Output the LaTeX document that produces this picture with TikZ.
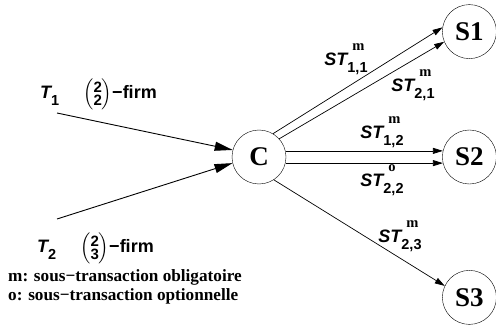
\documentclass[tikz,border=0pt]{standalone}
\usepackage{amsmath}
\usepackage{fontspec}
\setmainfont{Liberation Serif}
\setsansfont{Liberation Sans}
\usetikzlibrary{arrows.meta,positioning}

\newcommand{\stlabel}[2]{{\sffamily\bfseries\itshape ST}%
  \rlap{\raisebox{15pt}{\hspace{5pt}\fontsize{14.5}{14.5}\selectfont\rmfamily\bfseries #1}}%
  \raisebox{-7pt}{\fontsize{14.5}{14.5}\selectfont\sffamily\bfseries #2}}
\newcommand{\tlabel}[2]{{\sffamily\bfseries\itshape T}%
  \raisebox{-7pt}{\fontsize{14.5}{14.5}\selectfont\sffamily\bfseries #1}\hspace{24pt}%
  $\left(\vcenter{\hbox{\fontsize{15}{15}\selectfont\sffamily\bfseries
    \shortstack{2\\#2}}}\right)$%
  {\sffamily\bfseries −firm}}

\begin{document}
\begin{tikzpicture}[
  x=1pt, y=-1pt,
  state/.style={draw, circle, minimum size=54pt, inner sep=0pt,
                font=\fontsize{27}{27}\selectfont\bfseries},
  inarrow/.style={-{Triangle[length=18pt,width=9pt]}, line width=0.9pt},
  subarrow/.style={-{Triangle[length=10pt,width=6pt]}, line width=0.7pt},
  stlab/.style={inner sep=0pt, font=\fontsize{18}{18}\selectfont},
  legend/.style={anchor=west, inner sep=0pt, font=\fontsize{17.2}{17.2}\selectfont\bfseries}
]
\useasboundingbox (0,0) rectangle (496,326);

\node[state] (C) at (259,157) {C};
\node[state, right=156pt of C] (S2) {S2};
\node[state, above=71pt of S2] (S1) {S1};
\node[state, below=86pt of S2] (S3) {S3};

% incoming transactions
\coordinate (t1) at (57,113);
\coordinate (t2) at (57,219);
\draw[inarrow] (t1) -- (C.165);
\draw[inarrow] (t2) -- (C.193);
\node[stlab, anchor=west] (T1) at (40,94)  {\tlabel{1}{2}};
\node[stlab, anchor=west] (T2) at (37,248) {\tlabel{2}{3}};

% sub-transactions
\draw[subarrow] (C.59)  -- (S1.171);
\draw[subarrow] (C.42)  -- (S1.202);
\draw[subarrow] (C.13)  -- (S2.167);
\draw[subarrow] (C.-13) -- (S2.193);
\draw[subarrow] (C.-57) -- (S3.155);

\node[stlab] (st11) at (346,59)  {\stlabel{m}{1,1}};
\node[stlab] (st21) at (413,85)  {\stlabel{m}{2,1}};
\node[stlab] (st12) at (382,132) {\stlabel{m}{1,2}};
\node[stlab] (st22) at (382,180) {\stlabel{o}{2,2}};
\node[stlab] (st23) at (400,236) {\stlabel{m}{2,3}};

% legend
\node[legend] (legm) at (8,277) {m: sous−transaction obligatoire};
\node[legend] (lego) at (8,296) {o: sous−transaction optionnelle};
\end{tikzpicture}
\end{document}
